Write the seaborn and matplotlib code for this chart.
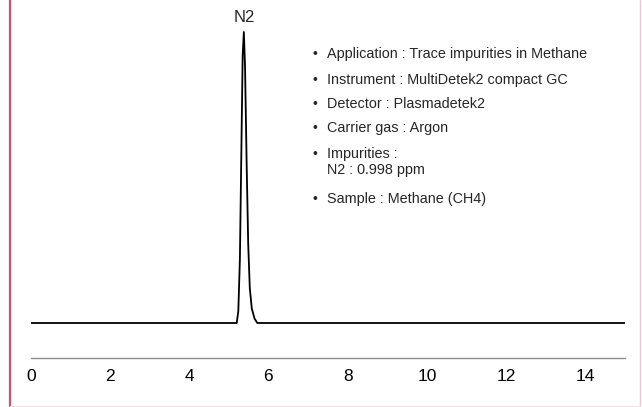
import matplotlib
matplotlib.use('Agg')
import matplotlib.pyplot as plt
import seaborn as sns
import pandas as pd
from matplotlib.lines import Line2D

# chromatogram (time in min, normalised signal)
time_min = [0, 5.20, 5.24, 5.28, 5.32, 5.35, 5.38, 5.41, 5.45, 5.49, 5.53, 5.58, 5.65, 5.72, 15]
signal = [0, 0, 0.04, 0.22, 0.62, 0.92, 1.0, 0.88, 0.55, 0.27, 0.12, 0.05, 0.015, 0, 0]

peak_name = 'N2'
peak_time = 5.38
x_ticks = [0, 2, 4, 6, 8, 10, 12, 14]

info_lines = [
    ('•', 'Application : Trace impurities in Methane', 54),
    ('•', 'Instrument : MultiDetek2 compact GC', 80),
    ('•', 'Detector : Plasmadetek2', 104),
    ('•', 'Carrier gas : Argon', 128),
    ('•', 'Impurities :', 154),
    ('', 'N2 : 0.998 ppm', 170),
    ('•', 'Sample : Methane (CH4)', 199),
]

sns.set_style('white')
plt.rcParams['font.family'] = ['Liberation Sans', 'DejaVu Sans']

W, H = 642, 407
fig = plt.figure(figsize=(W / 100, H / 100), dpi=100)

# axes placed in pixel terms: x from 30.7 to 625, x-axis line at y=358, top at y=10
ax = fig.add_axes([30.7 / W, (H - 358) / H, (625 - 30.7) / W, (358 - 10) / H])

df = pd.DataFrame({'t': time_min, 's': signal})
sns.lineplot(data=df, x='t', y='s', ax=ax, color='black', linewidth=1.3)

ax.set_xlim(0, 15)
ax.set_ylim(-(358 - 323) / 291, (323 - 10) / 291)
ax.set_xticks(x_ticks)
ax.set_yticks([])
ax.set_xlabel('')
ax.set_ylabel('')
for side in ['top', 'right', 'left']:
    ax.spines[side].set_visible(False)
ax.spines['bottom'].set_color('#8c8c8c')
ax.spines['bottom'].set_linewidth(1.0)
ax.tick_params(axis='x', direction='out', length=3, width=0.8, color='#b0b0b0',
               labelsize=12.5, pad=5, labelcolor='black')
ax.patch.set_alpha(0)

ax.text(peak_time, (323 - 18) / 291, peak_name, ha='center', va='center', fontsize=12)

for bullet, line, y in info_lines:
    if bullet:
        fig.text(315 / W, 1 - y / H, bullet, ha='center', va='center', fontsize=10)
    fig.text(327 / W, 1 - y / H, line, ha='left', va='center', fontsize=10.4)

# page frame
fig.add_artist(Line2D([10 / W, 10 / W], [0, 1], transform=fig.transFigure,
                      color='#c8526e', linewidth=1.6))
fig.add_artist(Line2D([640 / W, 640 / W], [0, 1], transform=fig.transFigure,
                      color='#ecc6d0', linewidth=1.0))
fig.add_artist(Line2D([10 / W, 640 / W], [1.5 / H, 1.5 / H], transform=fig.transFigure,
                      color='#f2e4e8', linewidth=1.0))

fig.savefig('out.png', dpi=100)
